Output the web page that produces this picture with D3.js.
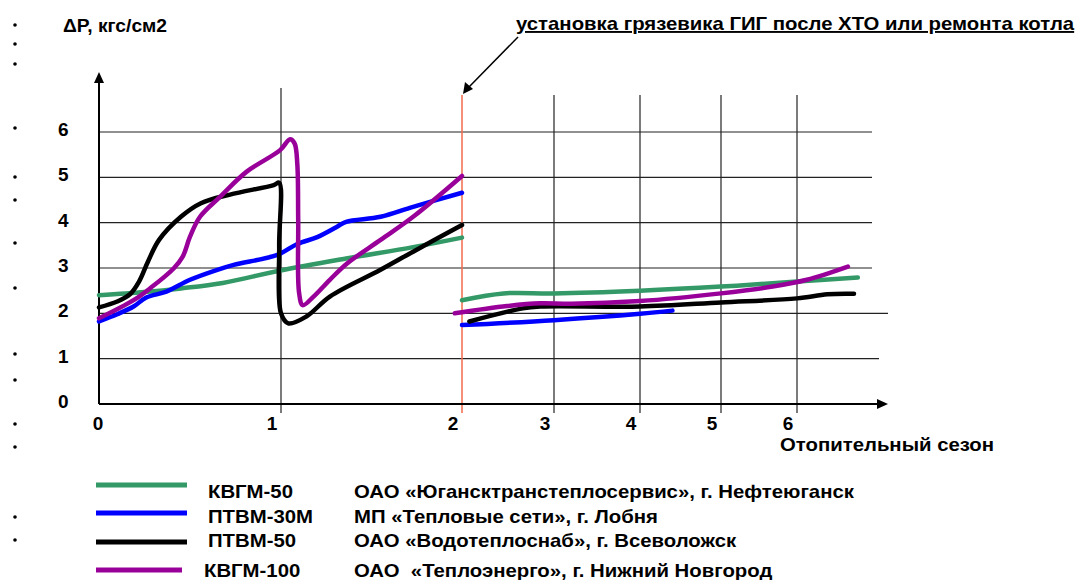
<!DOCTYPE html>
<html>
<head>
<meta charset="utf-8">
<title>ΔP по отопительным сезонам</title>
<script src="https://d3js.org/d3.v7.min.js"></script>
<style>
body { margin: 0; background: #fff; }
svg { display: block; font-family: "Liberation Sans", Arial, sans-serif; font-weight: bold; }
</style>
</head>
<body>
<script>
// --- data ---
var seasonTicks = [0, 1, 2, 3, 4, 5, 6];
var dpTicks = [0, 1, 2, 3, 4, 5, 6];
var boilers = ["КВГМ-50", "ПТВМ-30М", "ПТВМ-50", "КВГМ-100"];
var owners = ["ОАО «Югансктранстеплосервис», г. Нефтеюганск",
              "МП «Тепловые сети», г. Лобня",
              "ОАО «Водотеплоснаб», г. Всеволожск",
              "ОАО  «Теплоэнерго», г. Нижний Новгород"];

// [season, dP] before the mud trap (seasons 0..2)
var kvgm50Before = [[0,2.40],[0.25,2.47],[0.45,2.55],[0.68,2.67],[0.99,2.94],[1.36,3.21],[1.73,3.46],[2.0,3.67]];
var ptvm30Before = [[0,1.82],[0.1,1.98],[0.19,2.15],[0.26,2.35],[0.37,2.48],[0.5,2.74],[0.65,2.96],[0.74,3.07],[0.98,3.29],
                    [1.09,3.53],[1.2,3.68],[1.31,3.91],[1.36,4.02],[1.55,4.13],[1.73,4.35],[2.0,4.66]];
var ptvm50Before = [[0,2.13],[0.1,2.26],[0.17,2.42],[0.22,2.7],[0.27,3.15],[0.33,3.62],[0.45,4.13],[0.56,4.43],[0.72,4.62],
                    [0.96,4.83],[0.99,4.88],[0.99,3.5],[1.0,2.0],[1.04,1.78],[1.14,1.93],[1.27,2.37],[1.55,2.96],
                    [1.73,3.36],[2.0,3.95]];
var kvgm100Before = [[0,1.89],[0.19,2.29],[0.28,2.55],[0.41,2.99],[0.46,3.25],[0.5,3.69],[0.555,4.13],[0.665,4.57],[0.81,5.12],
                     [0.995,5.60],[1.05,5.84],[1.075,5.75],[1.09,5.3],[1.095,4.06],[1.1,2.45],[1.12,2.18],[1.18,2.37],
                     [1.27,2.74],[1.365,3.10],[1.55,3.62],[1.73,4.13],[2.0,5.03]];

// [season, dP] after the mud trap was installed
var kvgm50After = [[2.0,2.29],[2.45,2.44],[3,2.44],[4,2.50],[5,2.59],[6,2.70],[6.8,2.79]];
var ptvm30After = [[2.0,1.74],[3,1.85],[4,1.99],[4.4,2.06]];
var ptvm50After = [[2.08,1.82],[2.66,2.11],[2.85,2.15],[4,2.15],[5,2.24],[6,2.33],[6.4,2.42],[6.75,2.43]];
var kvgm100After = [[1.96,2.0],[2.49,2.16],[2.85,2.22],[3.2,2.21],[4,2.27],[5,2.44],[5.68,2.59],[6.13,2.74],[6.67,3.03]];

var beforeSeries = [kvgm50Before, ptvm30Before, ptvm50Before, kvgm100Before];
var afterSeries = [kvgm50After, ptvm30After, ptvm50After, kvgm100After];

var markerSeason = 2;
var yTitle = "ΔP, кгс/см2";
var xTitle = "Отопительный сезон";
var noteText = "установка грязевика ГИГ после ХТО или ремонта котла";

// --- drawing ---
var colors = ["#339966", "#0000ff", "#000000", "#990099"];

var svg = d3.select("body").append("svg")
    .attr("width", 1077)
    .attr("height", 580);

// seasons are not evenly spaced on the original drawing
var x = d3.scaleLinear()
    .domain(seasonTicks)
    .range([99, 281, 462, 554, 640, 721, 797]);
var y = d3.scaleLinear()
    .domain([0, 6])
    .range([404, 132]);

// stray bullet marks on the left edge
var bulletY = [25, 44, 64, 128, 177, 200, 243, 288, 354, 380, 424, 447, 517, 540];
svg.append("g").selectAll("circle")
    .data(bulletY)
  .enter().append("circle")
    .attr("cx", 15).attr("cy", function(d) { return d; })
    .attr("r", 1.8).attr("fill", "#000");

// horizontal grid
svg.append("g").selectAll("line")
    .data(dpTicks.filter(function(d) { return d > 0; }))
  .enter().append("line")
    .attr("x1", x(0))
    .attr("x2", function(d) { return d === 2 ? 888 : d === 1 ? 879 : 872; })
    .attr("y1", function(d) { return y(d); })
    .attr("y2", function(d) { return y(d); })
    .attr("stroke", "#222").attr("stroke-width", 1.2);

// vertical grid
svg.append("g").selectAll("line")
    .data(seasonTicks.filter(function(d) { return d > 0 && d !== markerSeason; }))
  .enter().append("line")
    .attr("x1", function(d) { return x(d); })
    .attr("x2", function(d) { return x(d); })
    .attr("y1", function(d) { return d === 1 ? 88 : 95; })
    .attr("y2", 413)
    .attr("stroke", "#222").attr("stroke-width", 1.2);

// red marker line
svg.append("line")
    .attr("x1", x(markerSeason)).attr("x2", x(markerSeason))
    .attr("y1", 95).attr("y2", 413)
    .attr("stroke", "#f26a4b").attr("stroke-width", 1.5);

// axes with arrows
svg.append("line")
    .attr("x1", x(0)).attr("x2", x(0)).attr("y1", y(0)).attr("y2", 80)
    .attr("stroke", "#000").attr("stroke-width", 2);
svg.append("path")
    .attr("d", d3.line()([[x(0), 72], [x(0) - 5, 83], [x(0) + 5, 83]]))
    .attr("fill", "#000");
svg.append("line")
    .attr("x1", x(0)).attr("x2", 880).attr("y1", y(0)).attr("y2", y(0))
    .attr("stroke", "#000").attr("stroke-width", 2);
svg.append("path")
    .attr("d", d3.line()([[888, y(0)], [877, y(0) - 5], [877, y(0) + 5]]))
    .attr("fill", "#000");

// tick labels
svg.append("g").selectAll("text")
    .data(dpTicks)
  .enter().append("text")
    .attr("x", 58)
    .attr("y", function(d) { return y(d) + 4; })
    .attr("font-size", 19)
    .text(function(d) { return d; });

svg.append("g").selectAll("text")
    .data(seasonTicks)
  .enter().append("text")
    .attr("x", function(d) { return d === 0 ? x(d) - 1 : x(d) - 9; })
    .attr("y", 430)
    .attr("text-anchor", "middle")
    .attr("font-size", 19)
    .text(function(d) { return d; });

svg.append("text")
    .attr("class", "stretch")
    .attr("x", 63).attr("y", 32)
    .attr("font-size", 18)
    .text(yTitle);

svg.append("text")
    .attr("class", "stretch")
    .attr("x", 780).attr("y", 451)
    .attr("font-size", 19)
    .text(xTitle);

// curves
var line = d3.line()
    .x(function(d) { return x(d[0]); })
    .y(function(d) { return y(d[1]); })
    .curve(d3.curveCatmullRom.alpha(0.5));

var curves = svg.append("g");
[beforeSeries, afterSeries].forEach(function(group) {
  curves.selectAll(null)
      .data(group)
    .enter().append("path")
      .attr("d", line)
      .attr("fill", "none")
      .attr("stroke", function(d, i) { return colors[i]; })
      .attr("stroke-width", 4.5)
      .attr("stroke-linecap", "round")
      .attr("stroke-linejoin", "round");
});

// annotation with arrow
svg.append("text")
    .attr("class", "stretch")
    .attr("x", 516).attr("y", 30)
    .attr("font-size", 19)
    .attr("text-decoration", "underline")
    .text(noteText);
svg.append("line")
    .attr("x1", 518).attr("y1", 37).attr("x2", 469).attr("y2", 87)
    .attr("stroke", "#000").attr("stroke-width", 1.5);
svg.append("path")
    .attr("d", d3.line()([[463, 94], [465, 82], [473, 89]]))
    .attr("fill", "#000");

// legend
var legendY = [485, 513, 542, 570];
var textY = [498, 523, 547, 577];
var legend = svg.append("g").selectAll("g")
    .data(boilers)
  .enter().append("g");
legend.append("line")
    .attr("x1", 96)
    .attr("x2", function(d, i) { return i === 3 ? 182 : 187; })
    .attr("y1", function(d, i) { return legendY[i]; })
    .attr("y2", function(d, i) { return legendY[i]; })
    .attr("stroke", function(d, i) { return colors[i]; })
    .attr("stroke-width", 5);
legend.append("text")
    .attr("class", "stretch")
    .attr("x", function(d, i) { return i === 3 ? 204 : 208; })
    .attr("y", function(d, i) { return textY[i]; })
    .attr("font-size", 19)
    .text(function(d) { return d; });
legend.append("text")
    .attr("class", "stretch")
    .attr("x", 354)
    .attr("y", function(d, i) { return textY[i]; })
    .attr("font-size", 19)
    .style("white-space", "pre")
    .text(function(d, i) { return owners[i]; });

// the source text is a little wider than Arial at this height
svg.selectAll("text.stretch").each(function() {
  var w = this.getComputedTextLength();
  d3.select(this).attr("textLength", w * 1.07).attr("lengthAdjust", "spacingAndGlyphs");
});
</script>
</body>
</html>
